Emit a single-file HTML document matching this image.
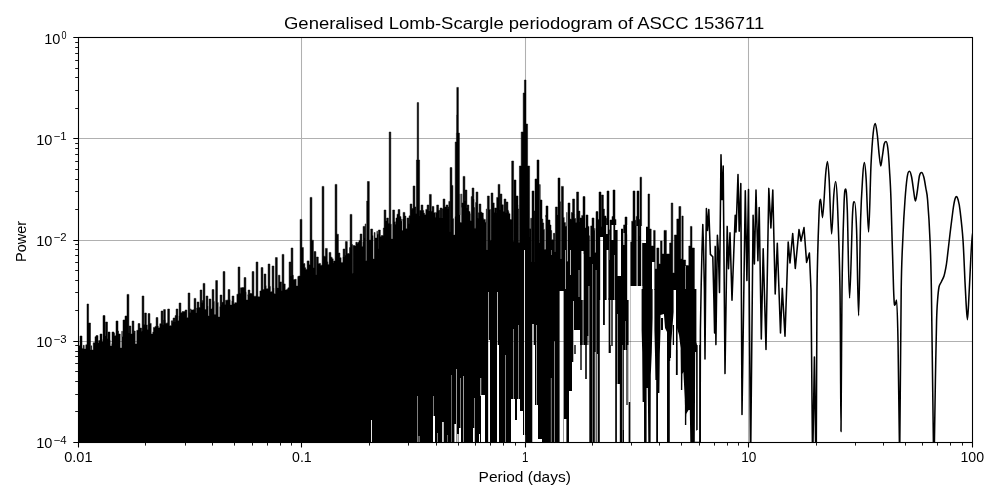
<!DOCTYPE html>
<html><head><meta charset="utf-8"><title>Generalised Lomb-Scargle periodogram</title>
<style>html,body{margin:0;padding:0;background:#fff;width:1000px;height:500px;overflow:hidden}svg text{white-space:pre}</style></head>
<body>
<svg width="1000" height="500" viewBox="0 0 1000 500" style="display:block">
<rect width="1000" height="500" fill="#fff"/>
<defs>
<clipPath id="ax"><rect x="78.4" y="37.6" width="893.9" height="404.8"/></clipPath>
<mask id="gm" maskUnits="userSpaceOnUse" x="0" y="0" width="1000" height="500"><rect width="1000" height="500" fill="#fff"/>
<rect x="371.0" y="420.0" width="0.90" height="22.4" fill="#000"/>
<rect x="417.2" y="396.0" width="0.50" height="46.4" fill="#000"/>
<rect x="418.7" y="436.0" width="0.70" height="6.4" fill="#000"/>
<rect x="433.1" y="396.0" width="0.50" height="46.4" fill="#000"/>
<rect x="433.0" y="416.0" width="2.00" height="26.4" fill="#000"/>
<rect x="437.4" y="433.0" width="0.50" height="9.4" fill="#000"/>
<rect x="442.2" y="422.0" width="1.50" height="20.4" fill="#000"/>
<rect x="447.2" y="435.0" width="0.40" height="7.4" fill="#000"/>
<rect x="451.2" y="375.0" width="0.40" height="67.4" fill="#000"/>
<rect x="456.2" y="369.0" width="0.60" height="73.4" fill="#000"/>
<rect x="454.4" y="424.0" width="1.60" height="18.4" fill="#000"/>
<rect x="457.2" y="434.0" width="1.40" height="8.4" fill="#000"/>
<rect x="459.0" y="428.0" width="2.00" height="14.4" fill="#000"/>
<rect x="460.2" y="378.0" width="0.50" height="51.0" fill="#000"/>
<rect x="463.2" y="376.0" width="0.60" height="66.4" fill="#000"/>
<rect x="474.2" y="398.0" width="0.50" height="44.4" fill="#000"/>
<rect x="473.0" y="428.0" width="1.50" height="14.4" fill="#000"/>
<rect x="479.0" y="434.0" width="1.00" height="8.4" fill="#000"/>
<rect x="481.0" y="395.0" width="4.00" height="47.4" fill="#000"/>
<rect x="480.4" y="378.0" width="0.80" height="18.0" fill="#000"/>
<rect x="488.2" y="292.0" width="0.60" height="150.4" fill="#000"/>
<rect x="488.4" y="340.0" width="1.60" height="102.4" fill="#000"/>
<rect x="497.3" y="292.0" width="0.70" height="150.4" fill="#000"/>
<rect x="497.0" y="345.0" width="2.00" height="97.4" fill="#000"/>
<rect x="505.2" y="355.0" width="0.50" height="87.4" fill="#000"/>
<rect x="511.0" y="399.0" width="4.00" height="43.4" fill="#000"/>
<rect x="513.4" y="329.0" width="0.50" height="71.0" fill="#000"/>
<rect x="517.0" y="399.0" width="3.00" height="43.4" fill="#000"/>
<rect x="518.2" y="325.0" width="0.50" height="75.0" fill="#000"/>
<rect x="514.8" y="420.0" width="2.40" height="22.4" fill="#000"/>
<rect x="520.0" y="411.0" width="3.00" height="31.4" fill="#000"/>
<rect x="523.0" y="435.0" width="2.20" height="7.4" fill="#000"/>
<rect x="524.0" y="250.0" width="0.90" height="192.4" fill="#000"/>
<rect x="532.3" y="324.0" width="1.40" height="118.4" fill="#000"/>
<rect x="533.0" y="345.0" width="2.00" height="97.4" fill="#000"/>
<rect x="536.1" y="325.0" width="0.60" height="117.4" fill="#000"/>
<rect x="535.0" y="405.0" width="3.00" height="37.4" fill="#000"/>
<rect x="538.0" y="439.0" width="4.00" height="3.4" fill="#000"/>
<rect x="551.0" y="250.0" width="0.40" height="5.0" fill="#000"/>
<rect x="550.9" y="378.0" width="0.50" height="64.4" fill="#000"/>
<rect x="554.2" y="341.0" width="0.50" height="101.4" fill="#000"/>
<rect x="559.6" y="291.0" width="4.00" height="151.4" fill="#000"/>
<rect x="565.3" y="250.0" width="0.60" height="39.0" fill="#000"/>
<rect x="570.1" y="250.0" width="0.70" height="25.0" fill="#000"/>
<rect x="569.0" y="391.0" width="3.00" height="51.4" fill="#000"/>
<rect x="564.0" y="419.0" width="2.40" height="23.4" fill="#000"/>
<rect x="573.3" y="301.0" width="0.70" height="141.4" fill="#000"/>
<rect x="574.0" y="330.0" width="6.00" height="112.4" fill="#000"/>
<rect x="572.0" y="362.0" width="2.00" height="80.4" fill="#000"/>
<rect x="580.0" y="345.0" width="9.00" height="97.4" fill="#000"/>
<rect x="578.7" y="270.0" width="0.60" height="27.0" fill="#000"/>
<rect x="582.7" y="254.0" width="0.70" height="188.4" fill="#000"/>
<rect x="581.4" y="251.0" width="2.10" height="49.0" fill="#000"/>
<rect x="588.6" y="286.0" width="0.70" height="156.4" fill="#000"/>
<rect x="592.2" y="264.0" width="0.40" height="178.4" fill="#000"/>
<rect x="595.8" y="270.0" width="0.50" height="172.4" fill="#000"/>
<rect x="594.8" y="352.0" width="0.80" height="90.4" fill="#000"/>
<rect x="596.9" y="354.0" width="0.80" height="88.4" fill="#000"/>
<rect x="587.6" y="336.0" width="0.80" height="10.0" fill="#000"/>
<rect x="600.2" y="237.0" width="2.80" height="205.4" fill="#000"/>
<rect x="599.8" y="300.0" width="15.40" height="142.4" fill="#000"/>
<rect x="606.6" y="250.0" width="1.80" height="50.0" fill="#000"/>
<rect x="606.2" y="225.0" width="1.40" height="9.0" fill="#000"/>
<rect x="611.6" y="225.0" width="1.80" height="15.0" fill="#000"/>
<rect x="614.3" y="255.0" width="0.50" height="45.0" fill="#000"/>
<rect x="615.2" y="225.0" width="2.40" height="5.0" fill="#000"/>
<rect x="617.6" y="225.0" width="3.40" height="51.0" fill="#000"/>
<rect x="623.4" y="233.0" width="1.00" height="12.0" fill="#000"/>
<rect x="627.2" y="225.0" width="3.20" height="75.0" fill="#000"/>
<rect x="630.4" y="286.0" width="11.90" height="156.4" fill="#000"/>
<rect x="628.6" y="300.0" width="1.80" height="102.0" fill="#000"/>
<rect x="626.0" y="405.0" width="2.60" height="37.4" fill="#000"/>
<rect x="627.6" y="345.0" width="1.00" height="60.0" fill="#000"/>
<rect x="616.9" y="384.0" width="2.90" height="58.4" fill="#000"/>
<rect x="617.0" y="314.0" width="0.50" height="70.0" fill="#000"/>
<rect x="622.0" y="345.0" width="0.40" height="97.4" fill="#000"/>
<rect x="622.9" y="350.0" width="0.30" height="80.0" fill="#000"/>
<rect x="624.0" y="350.0" width="2.40" height="92.4" fill="#000"/>
<rect x="625.3" y="321.0" width="0.40" height="29.0" fill="#000"/>
<rect x="636.6" y="226.0" width="1.00" height="60.0" fill="#000"/>
<rect x="641.2" y="226.0" width="1.00" height="74.0" fill="#000"/>
<rect x="642.2" y="226.0" width="3.80" height="17.0" fill="#000"/>
<rect x="652.0" y="262.0" width="2.40" height="75.0" fill="#000"/>
<rect x="685.4" y="266.0" width="0.50" height="34.0" fill="#000"/>
<rect x="640.0" y="290.0" width="61.00" height="152.4" fill="#000"/>
</mask></defs>
<g stroke="#b0b0b0" stroke-width="1.05" fill="none">
<path d="M301.5,37.6V442.4"/><path d="M78.4,138.5H972.3"/>
<path d="M525.5,37.6V442.4"/><path d="M78.4,240.5H972.3"/>
<path d="M748.5,37.6V442.4"/><path d="M78.4,341.5H972.3"/>
</g>
<g clip-path="url(#ax)">
<g mask="url(#gm)"><path d="M78.4,442.4 L78.4,345.7 L80.0,345.7 L80.0,336.0 L82.0,336.0 L82.0,348.4 L83.3,348.4 L83.3,345.3 L84.2,345.3 L84.2,349.0 L85.8,349.0 L85.8,344.8 L87.0,344.8 L87.0,304.0 L88.6,304.0 L88.6,323.0 L90.5,323.0 L90.5,350.0 L91.0,350.0 L91.0,345.8 L91.6,345.8 L91.6,350.0 L93.2,350.0 L93.2,342.8 L95.0,342.8 L95.0,336.7 L96.0,336.7 L96.0,335.6 L98.0,335.6 L98.0,343.1 L98.7,343.1 L98.7,340.5 L100.0,340.5 L100.0,334.0 L102.0,334.0 L102.0,341.8 L102.8,341.8 L102.8,339.4 L103.0,339.4 L103.0,315.6 L105.0,315.6 L105.0,333.2 L105.0,333.2 L105.0,336.0 L105.5,336.0 L105.5,322.0 L107.5,322.0 L107.5,338.5 L108.0,338.5 L108.0,332.0 L110.0,332.0 L110.0,340.2 L110.2,340.2 L110.2,346.0 L111.8,346.0 L111.8,343.7 L112.0,343.7 L112.0,332.0 L114.0,332.0 L114.0,333.2 L114.6,333.2 L114.6,335.8 L116.0,335.8 L116.0,321.0 L118.0,321.0 L118.0,334.1 L118.4,334.1 L118.4,330.9 L118.5,330.9 L118.5,334.0 L120.2,334.0 L120.2,348.0 L121.8,348.0 L121.8,331.2 L122.3,331.2 L122.3,336.8 L123.0,336.8 L123.0,320.0 L125.0,320.0 L125.0,338.3 L125.0,338.3 L125.0,316.0 L127.0,316.0 L127.0,339.9 L127.0,339.9 L127.0,294.4 L128.9,294.4 L128.9,333.0 L129.1,333.0 L129.1,326.0 L130.9,326.0 L130.9,334.0 L132.1,334.0 L132.1,321.0 L133.9,321.0 L133.9,333.1 L134.1,333.1 L134.1,331.0 L135.2,331.0 L135.2,344.0 L136.8,344.0 L136.8,330.3 L138.1,330.3 L138.1,323.6 L139.9,323.6 L139.9,328.1 L141.6,328.1 L141.6,331.3 L142.1,331.3 L142.1,296.0 L143.9,296.0 L143.9,324.6 L144.6,324.6 L144.6,313.0 L146.4,313.0 L146.4,324.9 L147.3,324.9 L147.3,329.4 L148.1,329.4 L148.1,313.6 L149.9,313.6 L149.9,323.4 L151.2,323.4 L151.2,334.0 L152.8,334.0 L152.8,331.9 L153.4,331.9 L153.4,327.4 L155.0,327.4 L155.0,326.4 L156.1,326.4 L156.1,317.6 L157.9,317.6 L157.9,326.1 L158.3,326.1 L158.3,327.7 L159.8,327.7 L159.8,323.7 L161.1,323.7 L161.1,311.0 L162.9,311.0 L162.9,324.4 L163.2,324.4 L163.2,320.1 L163.6,320.1 L163.6,309.6 L165.4,309.6 L165.4,320.1 L165.6,320.1 L165.6,323.2 L167.2,323.2 L167.2,322.7 L167.7,322.7 L167.7,309.0 L169.5,309.0 L169.5,325.7 L171.3,325.7 L171.3,320.8 L172.8,320.8 L172.8,322.2 L173.1,322.2 L173.1,318.0 L174.9,318.0 L174.9,322.0 L175.1,322.0 L175.1,315.6 L176.1,315.6 L176.1,309.0 L177.9,309.0 L177.9,320.8 L178.9,320.8 L178.9,315.8 L179.1,315.8 L179.1,303.0 L180.9,303.0 L180.9,312.7 L182.1,312.7 L182.1,311.6 L183.9,311.6 L183.9,311.6 L185.1,311.6 L185.1,310.0 L186.9,310.0 L186.9,317.8 L188.1,317.8 L188.1,293.0 L189.9,293.0 L189.9,312.6 L190.5,312.6 L190.5,308.9 L191.1,308.9 L191.1,310.0 L192.9,310.0 L192.9,309.8 L194.1,309.8 L194.1,298.4 L195.9,298.4 L195.9,313.0 L196.6,313.0 L196.6,308.0 L197.1,308.0 L197.1,302.0 L198.9,302.0 L198.9,307.6 L200.1,307.6 L200.1,290.0 L201.9,290.0 L201.9,302.6 L202.3,302.6 L202.3,300.6 L203.1,300.6 L203.1,283.4 L204.9,283.4 L204.9,309.6 L206.1,309.6 L206.1,296.0 L207.9,296.0 L207.9,306.3 L208.1,306.3 L208.1,315.9 L209.1,315.9 L209.1,299.0 L210.9,299.0 L210.9,308.9 L212.0,308.9 L212.0,307.4 L212.1,307.4 L212.1,289.6 L213.9,289.6 L213.9,301.4 L214.3,301.4 L214.3,314.5 L215.7,314.5 L215.7,280.6 L217.5,280.6 L217.5,302.5 L218.2,302.5 L218.2,317.0 L219.8,317.0 L219.8,306.7 L220.1,306.7 L220.1,295.0 L221.9,295.0 L221.9,304.7 L222.0,304.7 L222.0,302.3 L223.1,302.3 L223.1,271.6 L224.9,271.6 L224.9,304.5 L225.6,304.5 L225.6,300.2 L227.4,300.2 L227.4,299.9 L228.1,299.9 L228.1,289.6 L229.9,289.6 L229.9,299.8 L230.2,299.8 L230.2,305.0 L231.8,305.0 L231.8,301.2 L232.1,301.2 L232.1,296.0 L233.9,296.0 L233.9,304.0 L234.7,304.0 L234.7,302.7 L236.9,302.7 L236.9,294.2 L238.1,294.2 L238.1,267.0 L239.9,267.0 L239.9,293.3 L240.4,293.3 L240.4,287.8 L242.2,287.8 L242.2,287.5 L244.1,287.5 L244.1,277.6 L245.9,277.6 L245.9,291.7 L246.1,291.7 L246.1,292.4 L246.2,292.4 L246.2,300.0 L247.8,300.0 L247.8,294.8 L248.0,294.8 L248.0,295.4 L248.1,295.4 L248.1,290.0 L249.9,290.0 L249.9,294.0 L250.0,294.0 L250.0,293.5 L252.1,293.5 L252.1,271.6 L253.9,271.6 L253.9,296.2 L256.1,296.2 L256.1,262.0 L257.9,262.0 L257.9,296.8 L259.9,296.8 L259.9,290.9 L261.1,290.9 L261.1,267.6 L262.9,267.6 L262.9,289.5 L264.1,289.5 L264.1,274.0 L265.9,274.0 L265.9,285.7 L266.2,285.7 L266.2,288.8 L268.1,288.8 L268.1,264.0 L269.9,264.0 L269.9,286.4 L270.4,286.4 L270.4,291.7 L272.1,291.7 L272.1,266.0 L273.9,266.0 L273.9,288.2 L274.1,288.2 L274.1,293.7 L275.4,293.7 L275.4,257.6 L277.3,257.6 L277.3,288.0 L278.4,288.0 L278.4,275.2 L279.9,275.2 L279.9,281.9 L281.5,281.9 L281.5,290.8 L282.1,290.8 L282.1,254.4 L283.9,254.4 L283.9,283.9 L285.2,283.9 L285.2,290.0 L286.8,290.0 L286.8,289.2 L287.9,289.2 L287.9,287.8 L289.1,287.8 L289.1,262.0 L290.9,262.0 L290.9,276.0 L291.1,276.0 L291.1,248.0 L292.9,248.0 L292.9,275.3 L293.4,275.3 L293.4,279.6 L295.1,279.6 L295.1,279.3 L296.2,279.3 L296.2,286.0 L297.8,286.0 L297.8,276.5 L298.5,276.5 L298.5,276.0 L300.1,276.0 L300.1,219.4 L301.9,219.4 L301.9,247.5 L302.3,247.5 L302.3,247.5 L303.1,247.5 L303.1,247.5 L303.4,247.5 L303.4,263.6 L304.9,263.6 L304.9,267.7 L305.5,267.7 L305.5,267.7 L305.8,267.7 L305.8,269.6 L307.1,269.6 L307.1,260.9 L309.1,260.9 L309.1,264.7 L310.1,264.7 L310.1,197.4 L311.9,197.4 L311.9,240.2 L312.8,240.2 L312.8,240.2 L313.4,240.2 L313.4,267.7 L314.1,267.7 L314.1,251.6 L315.9,251.6 L315.9,274.7 L316.4,274.7 L316.4,274.7 L316.4,274.7 L316.4,257.0 L318.3,257.0 L318.3,263.4 L320.5,263.4 L320.5,265.2 L322.1,265.2 L322.1,186.4 L323.9,186.4 L323.9,256.2 L325.4,256.2 L325.4,248.4 L327.3,248.4 L327.3,261.8 L327.9,261.8 L327.9,264.4 L329.1,264.4 L329.1,252.4 L330.9,252.4 L330.9,257.2 L331.7,257.2 L331.7,257.2 L332.1,257.2 L332.1,258.8 L333.2,258.8 L333.2,262.7 L333.6,262.7 L333.6,261.0 L335.1,261.0 L335.1,184.4 L336.9,184.4 L336.9,234.2 L337.0,234.2 L337.0,234.2 L338.1,234.2 L338.1,234.2 L338.4,234.2 L338.4,253.0 L339.9,253.0 L339.9,257.7 L341.1,257.7 L341.1,262.4 L342.9,262.4 L342.9,256.9 L343.1,256.9 L343.1,249.0 L344.9,249.0 L344.9,256.9 L345.0,256.9 L345.0,255.3 L345.4,255.3 L345.4,241.6 L347.3,241.6 L347.3,253.5 L349.5,253.5 L349.5,247.6 L350.1,247.6 L350.1,214.4 L351.9,214.4 L351.9,244.5 L352.6,244.5 L352.6,273.3 L353.1,273.3 L353.1,245.6 L354.9,245.6 L354.9,245.9 L355.8,245.9 L355.8,242.3 L357.1,242.3 L357.1,243.6 L357.7,243.6 L357.7,242.3 L358.9,242.3 L358.9,242.3 L359.0,242.3 L359.0,240.4 L360.1,240.4 L360.1,234.0 L361.9,234.0 L361.9,246.4 L362.9,246.4 L362.9,241.8 L363.1,241.8 L363.1,226.4 L364.9,226.4 L364.9,237.7 L365.1,237.7 L365.1,237.7 L365.2,237.7 L365.2,223.9 L365.8,223.9 L365.8,260.7 L366.1,260.7 L366.1,260.7 L366.5,260.7 L366.5,260.7 L366.7,260.7 L366.7,201.0 L366.8,201.0 L366.8,201.0 L367.2,201.0 L367.2,201.0 L367.4,201.0 L367.4,181.5 L369.3,181.5 L369.3,239.9 L370.7,239.9 L370.7,229.0 L372.6,229.0 L372.6,235.5 L373.0,235.5 L373.0,259.1 L373.5,259.1 L373.5,259.1 L374.2,259.1 L374.2,232.5 L375.1,232.5 L375.1,238.0 L376.9,238.0 L376.9,231.2 L377.4,231.2 L377.4,234.2 L378.1,234.2 L378.1,248.4 L378.4,248.4 L378.4,230.0 L380.3,230.0 L380.3,236.4 L381.2,236.4 L381.2,235.6 L383.3,235.6 L383.3,228.1 L384.1,228.1 L384.1,210.0 L385.9,210.0 L385.9,220.9 L386.6,220.9 L386.6,218.0 L388.4,218.0 L388.4,223.2 L388.6,223.2 L388.6,223.2 L389.2,223.2 L389.2,132.0 L390.8,132.0 L390.8,224.2 L391.3,224.2 L391.3,239.0 L391.6,239.0 L391.6,239.0 L392.5,239.0 L392.5,239.0 L392.7,239.0 L392.7,210.0 L394.6,210.0 L394.6,221.8 L395.1,221.8 L395.1,221.8 L395.4,221.8 L395.4,224.3 L396.0,224.3 L396.0,217.9 L396.3,217.9 L396.3,217.9 L396.9,217.9 L396.9,217.9 L397.0,217.9 L397.0,214.2 L398.1,214.2 L398.1,209.6 L399.9,209.6 L399.9,216.6 L400.6,216.6 L400.6,216.6 L401.0,216.6 L401.0,222.1 L401.1,222.1 L401.1,221.0 L401.8,221.0 L401.8,219.0 L402.0,219.0 L402.0,230.5 L402.3,230.5 L402.3,230.5 L403.0,230.5 L403.0,219.0 L403.1,219.0 L403.1,212.4 L404.9,212.4 L404.9,216.1 L405.7,216.1 L405.7,216.1 L405.9,216.1 L405.9,228.8 L407.1,228.8 L407.1,218.0 L408.9,218.0 L408.9,223.5 L409.1,223.5 L409.1,215.8 L409.7,215.8 L409.7,215.8 L410.1,215.8 L410.1,204.0 L411.9,204.0 L411.9,209.6 L412.1,209.6 L412.1,208.5 L413.0,208.5 L413.0,208.5 L413.1,208.5 L413.1,186.0 L414.9,186.0 L414.9,206.9 L415.7,206.9 L415.7,206.9 L415.9,206.9 L415.9,213.5 L416.4,213.5 L416.4,160.0 L417.2,160.0 L417.2,102.6 L418.6,102.6 L418.6,160.0 L419.6,160.0 L419.6,215.8 L419.8,215.8 L419.8,210.5 L421.0,210.5 L421.0,210.5 L421.1,210.5 L421.1,205.0 L422.9,205.0 L422.9,210.4 L423.8,210.4 L423.8,213.1 L424.1,213.1 L424.1,213.1 L424.5,213.1 L424.5,215.0 L424.6,215.0 L424.6,214.8 L425.8,214.8 L425.8,209.4 L425.9,209.4 L425.9,209.4 L427.1,209.4 L427.1,205.0 L428.9,205.0 L428.9,210.9 L429.4,210.9 L429.4,194.4 L431.3,194.4 L431.3,211.3 L432.1,211.3 L432.1,206.4 L433.9,206.4 L433.9,212.7 L434.5,212.7 L434.5,212.7 L435.0,212.7 L435.0,217.3 L435.6,217.3 L435.6,212.4 L436.7,212.4 L436.7,205.0 L438.6,205.0 L438.6,210.3 L438.6,210.3 L438.6,210.3 L439.8,210.3 L439.8,217.8 L440.1,217.8 L440.1,208.0 L441.9,208.0 L441.9,217.9 L442.2,217.9 L442.2,208.8 L442.6,208.8 L442.6,208.8 L443.1,208.8 L443.1,199.0 L444.9,199.0 L444.9,206.9 L446.1,206.9 L446.1,205.0 L447.9,205.0 L447.9,209.2 L448.1,209.2 L448.1,207.1 L448.1,207.1 L448.1,207.1 L448.8,207.1 L448.8,201.4 L449.1,201.4 L449.1,201.4 L449.9,201.4 L449.9,231.8 L450.1,231.8 L450.1,167.6 L451.9,167.6 L451.9,185.4 L452.0,185.4 L452.0,185.4 L452.9,185.4 L452.9,218.7 L453.6,218.7 L453.6,235.1 L453.8,235.1 L453.8,235.1 L455.0,235.1 L455.0,216.6 L455.2,216.6 L455.2,142.0 L456.4,142.0 L456.4,133.0 L456.6,133.0 L456.6,115.0 L456.8,115.0 L456.8,87.4 L458.4,87.4 L458.4,133.0 L459.4,133.0 L459.4,215.0 L460.0,215.0 L460.0,193.9 L460.1,193.9 L460.1,222.6 L461.6,222.6 L461.6,193.9 L461.9,193.9 L461.9,207.4 L461.9,207.4 L461.9,203.0 L463.1,203.0 L463.1,176.4 L464.9,176.4 L464.9,200.9 L465.1,200.9 L465.1,190.0 L466.9,190.0 L466.9,207.9 L467.1,207.9 L467.1,205.0 L468.9,205.0 L468.9,211.1 L469.0,211.1 L469.0,211.6 L470.0,211.6 L470.0,213.7 L470.3,213.7 L470.3,220.7 L471.2,220.7 L471.2,196.6 L472.0,196.6 L472.0,196.6 L472.1,196.6 L472.1,188.0 L473.9,188.0 L473.9,199.3 L474.1,199.3 L474.1,207.6 L474.7,207.6 L474.7,228.2 L474.9,228.2 L474.9,228.2 L475.6,228.2 L475.6,202.4 L476.1,202.4 L476.1,192.0 L477.9,192.0 L477.9,218.3 L478.2,218.3 L478.2,212.8 L479.1,212.8 L479.1,204.0 L480.9,204.0 L480.9,212.1 L481.4,212.1 L481.4,212.1 L481.8,212.1 L481.8,213.0 L483.3,213.0 L483.3,218.6 L483.7,218.6 L483.7,219.4 L485.3,219.4 L485.3,222.3 L486.3,222.3 L486.3,208.9 L486.5,208.9 L486.5,250.1 L487.1,250.1 L487.1,250.1 L487.4,250.1 L487.4,196.0 L489.3,196.0 L489.3,209.4 L490.4,209.4 L490.4,240.2 L490.8,240.2 L490.8,240.2 L491.0,240.2 L491.0,240.2 L491.1,240.2 L491.1,193.0 L492.9,193.0 L492.9,202.9 L494.2,202.9 L494.2,212.2 L494.7,212.2 L494.7,208.0 L496.6,208.0 L496.6,212.9 L496.7,212.9 L496.7,197.4 L496.8,197.4 L496.8,197.4 L498.1,197.4 L498.1,184.4 L499.9,184.4 L499.9,209.7 L500.1,209.7 L500.1,194.0 L501.9,194.0 L501.9,204.8 L502.8,204.8 L502.8,204.8 L503.3,204.8 L503.3,211.6 L504.1,211.6 L504.1,199.0 L505.9,199.0 L505.9,212.8 L506.1,212.8 L506.1,202.0 L507.9,202.0 L507.9,210.0 L508.3,210.0 L508.3,211.4 L508.9,211.4 L508.9,213.7 L510.0,213.7 L510.0,219.6 L511.7,219.6 L511.7,161.0 L513.6,161.0 L513.6,210.3 L513.7,210.3 L513.7,241.3 L514.0,241.3 L514.0,241.3 L514.0,241.3 L514.0,180.0 L516.0,180.0 L516.0,212.5 L516.0,212.5 L516.0,196.0 L518.0,196.0 L518.0,205.1 L518.1,205.1 L518.1,208.9 L518.7,208.9 L518.7,242.5 L519.1,242.5 L519.1,242.5 L519.4,242.5 L519.4,166.0 L521.2,166.0 L521.2,132.0 L523.2,132.0 L523.2,93.0 L524.4,93.0 L524.4,80.0 L526.0,80.0 L526.0,124.0 L527.6,124.0 L527.6,166.0 L529.6,166.0 L529.6,237.3 L529.7,237.3 L529.7,228.7 L530.7,228.7 L530.7,218.2 L530.8,218.2 L530.8,218.2 L531.7,218.2 L531.7,261.7 L532.0,261.7 L532.0,191.0 L534.0,191.0 L534.0,211.0 L534.9,211.0 L534.9,261.9 L534.9,261.9 L534.9,261.9 L534.9,261.9 L534.9,261.9 L535.0,261.9 L535.0,179.0 L537.0,179.0 L537.0,206.3 L537.0,206.3 L537.0,160.0 L539.0,160.0 L539.0,184.5 L539.1,184.5 L539.1,184.5 L539.4,184.5 L539.4,184.5 L539.5,184.5 L539.5,243.1 L540.0,243.1 L540.0,184.5 L540.1,184.5 L540.1,200.0 L542.0,200.0 L542.0,219.0 L542.3,219.0 L542.3,219.0 L542.8,219.0 L542.8,222.9 L543.7,222.9 L543.7,229.4 L544.4,229.4 L544.4,249.5 L544.4,249.5 L544.4,249.5 L545.8,249.5 L545.8,215.2 L546.0,215.2 L546.0,217.1 L546.0,217.1 L546.0,206.0 L548.0,206.0 L548.0,225.5 L548.0,225.5 L548.0,220.0 L550.0,220.0 L550.0,225.0 L551.0,225.0 L551.0,230.5 L551.7,230.5 L551.7,239.8 L553.4,239.8 L553.4,233.3 L554.8,233.3 L554.8,252.0 L555.4,252.0 L555.4,207.0 L557.4,207.0 L557.4,214.9 L558.0,214.9 L558.0,178.0 L560.0,178.0 L560.0,201.8 L560.6,201.8 L560.6,259.1 L561.0,259.1 L561.0,259.1 L561.3,259.1 L561.3,259.1 L561.4,259.1 L561.4,186.4 L563.4,186.4 L563.4,217.4 L563.7,217.4 L563.7,217.4 L564.2,217.4 L564.2,222.6 L565.4,222.6 L565.4,226.3 L565.8,226.3 L565.8,226.3 L566.8,226.3 L566.8,212.3 L566.9,212.3 L566.9,261.5 L567.9,261.5 L567.9,261.5 L568.0,261.5 L568.0,203.0 L570.0,203.0 L570.0,219.0 L570.8,219.0 L570.8,219.3 L571.4,219.3 L571.4,212.5 L571.4,212.5 L571.4,212.5 L572.6,212.5 L572.6,199.0 L574.6,199.0 L574.6,213.9 L574.7,213.9 L574.7,218.5 L575.7,218.5 L575.7,222.6 L576.5,222.6 L576.5,222.6 L576.6,222.6 L576.6,192.0 L578.6,192.0 L578.6,211.1 L578.7,211.1 L578.7,211.1 L579.9,211.1 L579.9,222.2 L580.0,222.2 L580.0,218.0 L581.7,218.0 L581.7,215.4 L582.0,215.4 L582.0,215.4 L582.7,215.4 L582.7,215.4 L583.0,215.4 L583.0,196.6 L585.0,196.6 L585.0,228.0 L586.0,228.0 L586.0,215.0 L588.0,215.0 L588.0,226.4 L589.0,226.4 L589.0,235.7 L589.5,235.7 L589.5,257.1 L590.7,257.1 L590.7,235.7 L590.7,235.7 L590.7,225.9 L590.8,225.9 L590.8,225.9 L592.0,225.9 L592.0,218.0 L594.0,218.0 L594.0,230.6 L594.7,230.6 L594.7,228.3 L594.9,228.3 L594.9,228.3 L594.9,228.3 L594.9,252.8 L596.0,252.8 L596.0,211.6 L598.0,211.6 L598.0,219.5 L599.0,219.5 L599.0,219.5 L599.0,219.5 L599.0,192.0 L601.0,192.0 L601.0,226.5 L601.2,226.5 L601.2,226.5 L601.4,226.5 L601.4,195.0 L603.4,195.0 L603.4,209.0 L604.0,209.0 L604.0,209.0 L604.4,209.0 L604.4,216.0 L606.0,216.0 L606.0,232.8 L606.2,232.8 L606.2,218.2 L606.8,218.2 L606.8,218.2 L607.0,218.2 L607.0,191.0 L609.0,191.0 L609.0,234.9 L609.1,234.9 L609.1,229.8 L609.4,229.8 L609.4,259.9 L610.0,259.9 L610.0,220.0 L612.0,220.0 L612.0,241.3 L612.0,241.3 L612.0,216.5 L613.0,216.5 L613.0,190.0 L615.0,190.0 L615.0,219.4 L616.0,219.4 L616.0,234.2 L616.0,234.2 L616.0,230.0 L618.0,230.0 L618.0,244.2 L618.3,244.2 L618.3,238.9 L619.9,238.9 L619.9,235.8 L621.0,235.8 L621.0,229.0 L623.0,229.0 L623.0,242.3 L623.6,242.3 L623.6,224.9 L623.8,224.9 L623.8,224.9 L625.0,224.9 L625.0,217.0 L627.0,217.0 L627.0,234.4 L628.0,234.4 L628.0,226.1 L628.4,226.1 L628.4,266.9 L629.7,266.9 L629.7,266.9 L629.8,266.9 L629.8,242.0 L631.7,242.0 L631.7,221.2 L633.0,221.2 L633.0,191.0 L635.0,191.0 L635.0,220.3 L635.7,220.3 L635.7,220.3 L635.8,220.3 L635.8,225.8 L636.2,225.8 L636.2,216.4 L637.0,216.4 L637.0,191.0 L639.0,191.0 L639.0,219.5 L639.4,219.5 L639.4,219.5 L639.9,219.5 L639.9,236.0 L640.0,236.0 L640.0,177.2 L641.6,177.2 L641.6,243.0 L644.8,243.0 L644.8,227.0 L648.0,227.0 L648.0,194.0 L649.6,194.0 L649.6,229.0 L651.2,229.0 L651.2,246.0 L653.6,246.0 L653.6,230.4 L655.2,230.4 L655.2,269.0 L656.8,269.0 L656.8,248.0 L658.9,248.0 L658.9,264.0 L660.5,264.0 L660.5,241.0 L662.1,241.0 L662.1,254.0 L664.0,254.0 L664.0,230.4 L666.4,230.4 L666.4,254.0 L669.6,254.0 L669.6,243.0 L671.2,243.0 L671.2,203.0 L672.8,203.0 L672.8,273.0 L674.4,273.0 L674.4,235.0 L676.8,235.0 L676.8,219.0 L678.9,219.0 L678.9,206.5 L680.8,206.5 L680.8,259.0 L681.9,259.0 L681.9,216.0 L683.2,216.0 L683.2,260.0 L685.6,260.0 L685.6,265.6 L688.8,265.6 L688.8,246.0 L690.4,246.0 L690.4,226.4 L692.0,226.4 L692.0,248.0 L694.4,248.0 L694.4,300.0 L695.0,300.0 L695.0,442.4Z" fill="#000" stroke="#000" stroke-width="0.5" stroke-linejoin="miter"/></g>
<path d="M641.6,289.0 L652.6,289.0 L652.6,318.0 L651.8,352.0 L650.8,375.0 L650.6,442.4 L648.3,442.4 L647.8,388.0 L646.6,388.0 L646.6,442.4 L644.2,442.4 L644.0,402.0 L642.6,402.0 L642.2,352.0 L641.6,330.0Z" fill="#000"/>
<path d="M654.4,289.0 L664.0,289.0 L664.0,314.0 L660.5,315.0 L660.5,330.0 L659.8,354.0 L659.4,393.0 L658.0,393.0 L658.0,442.4 L656.2,442.4 L656.2,380.0 L655.4,380.0 L655.0,354.0 L654.4,330.0Z" fill="#000"/>
<path d="M664.0,289.0 L673.6,289.0 L673.6,312.0 L672.4,328.0 L671.2,343.0 L671.0,358.0 L669.8,358.0 L669.8,442.4 L667.0,442.4 L667.0,332.0 L665.0,328.0 L664.0,315.0Z" fill="#000"/>
<path d="M676.0,289.0 L696.4,289.0 L696.4,342.0 L697.2,346.0 L697.2,430.0 L696.4,431.0 L696.2,352.0 L695.2,352.0 L694.8,442.4 L690.3,442.4 L689.8,410.0 L688.6,410.0 L687.4,412.0 L686.2,414.0 L685.6,425.5 L684.8,400.0 L683.4,372.0 L682.2,374.0 L682.0,390.0 L681.2,390.0 L680.6,348.0 L679.0,335.0 L677.0,328.0 L676.0,315.0Z" fill="#000"/>
<path d="M604.0,250.0V325.0" stroke="#000" stroke-width="1.4" fill="none"/>
<path d="M610.0,345.0V353.0" stroke="#000" stroke-width="1.4" fill="none"/>
<path d="M575.0,345.0V354.0" stroke="#000" stroke-width="1.4" fill="none"/>
<path d="M581.0,345.0V370.0" stroke="#000" stroke-width="1.4" fill="none"/>
<path d="M586.0,345.0V379.0" stroke="#000" stroke-width="1.6" fill="none"/>
<path d="M676.6,350.0V375.0" stroke="#000" stroke-width="1.4" fill="none"/>
<path d="M681.6,350.0V390.0" stroke="#000" stroke-width="1.4" fill="none"/>
<path d="M685.6,400.0V425.0" stroke="#000" stroke-width="1.4" fill="none"/>
<path d="M697.0,345.0V430.0" stroke="#000" stroke-width="1.2" fill="none"/>
<path d="M700.0,345.0V442.4" stroke="#000" stroke-width="1.6" fill="none"/>
<path d="M662.0,318.0V330.0" stroke="#000" stroke-width="2.0" fill="none"/>
<path d="M669.0,318.0V361.0" stroke="#000" stroke-width="2.4" fill="none"/>
<path d="M676.8,289.0V375.0" stroke="#000" stroke-width="1.6" fill="none"/>
<path d="M673.4,325.0V345.0" stroke="#000" stroke-width="1.3" fill="none"/>
<path d="M645.0,395.0V442.4" stroke="#000" stroke-width="1.5" fill="none"/>
<path d="M603.8,298.0V325.0" stroke="#000" stroke-width="1.4" fill="none"/>
<path d="M609.5,298.0V353.0" stroke="#000" stroke-width="1.7" fill="none"/>
<path d="M612.0,298.0V346.0" stroke="#000" stroke-width="1.4" fill="none"/>
<path d="M695.0,442.4L698.0,442.4L700.1,442.4L700.4,330.0L701.2,285.0L702.0,250.0L702.8,224.6L703.6,250.0L704.4,290.0L705.0,359.0L705.6,290.0L706.0,240.0L706.4,208.6L707.5,230.4L708.8,209.6L710.4,254.4L712.8,256.8L713.9,300.0L714.6,333.0L715.2,246.4L715.9,344.6L717.4,235.2L718.4,251.2L719.5,292.6L721.0,154.8L722.0,199.6L723.2,166.0L725.0,373.6L727.2,226.4L728.5,268.8L730.0,232.8L732.0,300.3L735.2,215.2L736.0,232.0L738.0,174.5L739.2,231.2L740.8,183.6L742.0,414.4L745.3,190.8L746.9,280.6L748.5,189.5L750.4,442.4L750.8,442.4L753.1,215.2L754.4,264.0L756.0,190.0L757.9,260.8L759.2,207.6L761.3,339.0L763.2,248.8L766.0,349.4L768.8,188.4L770.9,228.0L772.8,190.0L775.2,293.9L777.3,243.2L780.5,333.0L782.3,288.4L785.0,336.2L788.2,242.0L790.0,263.0L792.7,233.5L795.3,268.4L799.0,229.6L801.0,241.0L804.0,227.6L806.6,262.4L809.4,253.0L811.0,290.0L812.4,442.4L813.0,442.4L814.4,357.0L815.6,442.4L816.3,442.4L817.0,290.0C817.5,252.1 818.4,230.1 819.0,215.0C819.6,199.9 820.0,199.2 820.6,199.2C821.2,199.2 821.8,217.6 822.6,217.6C823.4,217.6 824.8,184.3 825.6,175.0C826.4,165.7 826.8,161.6 827.4,161.6C828.0,161.6 828.5,167.9 829.2,180.0C829.9,192.1 830.8,234.0 831.6,234.0C832.4,234.0 833.1,203.8 833.8,195.0C834.5,186.2 835.0,181.4 835.6,181.4C836.2,181.4 836.8,186.9 837.5,205.0C838.2,223.1 839.4,252.2 840.0,290.0C840.6,327.8 840.7,431.6 841.0,431.6C841.3,431.6 841.5,327.8 842.0,290.0C842.5,252.2 843.4,221.8 844.0,205.0C844.6,188.2 845.1,189.0 845.6,189.0C846.1,189.0 846.6,191.8 847.3,210.0C848.0,228.2 848.7,298.0 849.6,298.0C850.5,298.0 851.7,231.0 852.5,215.0C853.3,199.0 853.9,202.0 854.6,202.0C855.3,202.0 855.9,211.1 856.6,230.0C857.3,248.9 857.9,315.6 858.6,315.6C859.3,315.6 859.9,243.4 860.6,220.0C861.3,196.6 862.2,184.6 862.8,175.0C863.4,165.4 863.8,162.6 864.4,162.6C865.0,162.6 865.5,168.4 866.2,180.0C866.9,191.6 867.8,232.0 868.6,232.0C869.4,232.0 870.2,181.5 871.0,165.0C871.8,148.5 872.5,139.9 873.2,133.0C873.9,126.1 874.5,123.6 875.2,123.6C875.9,123.6 876.5,128.8 877.2,134.0C877.9,139.2 878.6,149.7 879.2,155.0C879.8,160.3 880.3,166.0 880.8,166.0C881.3,166.0 881.8,159.7 882.4,156.0C883.0,152.3 883.6,146.4 884.2,144.0C884.8,141.6 885.4,141.4 886.0,141.4C886.6,141.4 887.2,143.2 887.8,148.0C888.4,152.8 889.0,161.3 889.5,170.0C890.0,178.7 890.3,180.0 891.0,200.0C891.7,220.0 892.9,272.5 893.6,290.0C894.3,307.5 894.5,305.0 895.0,305.0C895.5,305.0 896.1,300.0 896.6,300.0C897.1,300.0 897.5,316.3 898.0,340.0L899.4,442.4L899.8,442.4L901.2,290.0C901.7,255.4 902.4,250.0 903.0,235.0C903.6,220.0 904.3,209.7 905.0,200.0C905.7,190.3 906.5,181.8 907.2,177.0C907.9,172.2 908.7,171.2 909.4,171.2C910.1,171.2 910.9,173.5 911.6,177.0C912.3,180.5 913.2,188.0 913.8,192.0C914.4,196.0 914.8,201.0 915.4,201.0C916.0,201.0 916.5,196.2 917.2,192.0C917.9,187.8 918.7,179.3 919.4,176.0C920.1,172.7 920.9,172.4 921.6,172.4C922.3,172.4 923.1,174.4 923.8,177.0C924.5,179.6 925.2,184.2 925.8,188.0C926.4,191.8 926.9,191.3 927.6,200.0C928.3,208.7 929.4,225.0 930.0,240.0C930.6,255.0 930.8,256.3 931.4,290.0L933.4,442.4L934.4,442.4L935.4,380.0C935.8,359.6 936.2,333.3 936.6,320.0C937.0,306.7 937.2,305.5 937.6,300.0C938.0,294.5 938.4,290.1 939.0,287.0C939.6,283.9 940.7,283.3 941.5,281.5C942.3,279.7 943.3,278.1 944.0,276.0C944.7,273.9 945.1,271.7 945.6,269.0C946.1,266.3 946.3,265.8 947.0,260.0C947.7,254.2 949.0,242.3 950.0,234.0C951.0,225.7 952.2,215.8 953.0,210.0C953.8,204.2 954.4,201.2 955.0,199.0C955.6,196.8 955.9,196.6 956.4,196.6C956.9,196.6 957.4,197.3 958.0,199.5C958.6,201.7 959.2,203.2 960.0,210.0C960.8,216.8 962.2,228.0 963.0,240.0C963.8,252.0 964.5,271.2 965.0,282.0C965.5,292.8 965.8,298.7 966.2,305.0C966.6,311.3 967.0,319.6 967.4,319.6C967.8,319.6 968.1,312.4 968.5,305.0C968.9,297.6 969.4,287.0 970.0,275.0C970.6,263.0 971.9,233.0 972.3,233.0" fill="none" stroke="#000" stroke-width="1.55" stroke-linejoin="round" stroke-linecap="butt"/>
</g>
<rect x="78.5" y="37.5" width="894.0" height="405.0" fill="none" stroke="#000" stroke-width="1.1"/>
<path d="M78.5,442.4v5.1 M78.4,37.5h-5.1 M301.5,442.4v5.1 M78.4,138.5h-5.1 M525.5,442.4v5.1 M78.4,240.5h-5.1 M748.5,442.4v5.1 M78.4,341.5h-5.1 M972.5,442.4v5.1 M78.4,442.5h-5.1" stroke="#000" stroke-width="1.1" fill="none"/>
<path d="M145.5,442.4v3.2 M78.4,411.5h-3.2 M185.5,442.4v3.2 M78.4,394.5h-3.2 M212.5,442.4v3.2 M78.4,381.5h-3.2 M234.5,442.4v3.2 M78.4,371.5h-3.2 M252.5,442.4v3.2 M78.4,363.5h-3.2 M267.5,442.4v3.2 M78.4,356.5h-3.2 M280.5,442.4v3.2 M78.4,351.5h-3.2 M291.5,442.4v3.2 M78.4,345.5h-3.2 M369.5,442.4v3.2 M78.4,310.5h-3.2 M408.5,442.4v3.2 M78.4,292.5h-3.2 M436.5,442.4v3.2 M78.4,280.5h-3.2 M458.5,442.4v3.2 M78.4,270.5h-3.2 M475.5,442.4v3.2 M78.4,262.5h-3.2 M490.5,442.4v3.2 M78.4,255.5h-3.2 M503.5,442.4v3.2 M78.4,249.5h-3.2 M515.5,442.4v3.2 M78.4,244.5h-3.2 M592.5,442.4v3.2 M78.4,209.5h-3.2 M631.5,442.4v3.2 M78.4,191.5h-3.2 M659.5,442.4v3.2 M78.4,179.5h-3.2 M681.5,442.4v3.2 M78.4,169.5h-3.2 M699.5,442.4v3.2 M78.4,161.5h-3.2 M714.5,442.4v3.2 M78.4,154.5h-3.2 M727.5,442.4v3.2 M78.4,148.5h-3.2 M738.5,442.4v3.2 M78.4,143.5h-3.2 M816.5,442.4v3.2 M78.4,108.5h-3.2 M855.5,442.4v3.2 M78.4,90.5h-3.2 M883.5,442.4v3.2 M78.4,77.5h-3.2 M905.5,442.4v3.2 M78.4,68.5h-3.2 M922.5,442.4v3.2 M78.4,60.5h-3.2 M937.5,442.4v3.2 M78.4,53.5h-3.2 M950.5,442.4v3.2 M78.4,47.5h-3.2 M962.5,442.4v3.2 M78.4,42.5h-3.2" stroke="#000" stroke-width="0.9" fill="none"/>
<g font-family="'Liberation Sans', sans-serif" fill="#000" opacity="0.999">
<text x="284.0" y="28.9" font-size="17.3" textLength="480.2" lengthAdjust="spacingAndGlyphs">Generalised Lomb-Scargle periodogram of ASCC 1536711</text>
<text x="478.6" y="482" font-size="14.1" textLength="92.2" lengthAdjust="spacingAndGlyphs">Period (days)</text>
<text transform="translate(26,262) rotate(-90)" font-size="14.1" textLength="41" lengthAdjust="spacingAndGlyphs">Power</text>
<text x="64.2" y="462.2" font-size="14.1" textLength="28.4" lengthAdjust="spacingAndGlyphs">0.01</text>
<text x="292.1" y="462.2" font-size="14.1" textLength="19.6" lengthAdjust="spacingAndGlyphs">0.1</text>
<text x="522.1" y="462.2" font-size="14.1" textLength="6.4" lengthAdjust="spacingAndGlyphs">1</text>
<text x="741.2" y="462.2" font-size="14.1" textLength="15.2" lengthAdjust="spacingAndGlyphs">10</text>
<text x="960.5" y="462.2" font-size="14.1" textLength="23.6" lengthAdjust="spacingAndGlyphs">100</text>
<text x="61.6" y="38.9" font-size="10.3" textLength="5.0" lengthAdjust="spacingAndGlyphs">0</text>
<text x="44.2" y="43.6" font-size="14.1" textLength="16.2" lengthAdjust="spacingAndGlyphs">10</text>
<text x="53.6" y="140.1" font-size="10.3" textLength="13.0" lengthAdjust="spacingAndGlyphs">−1</text>
<text x="36.2" y="144.8" font-size="14.1" textLength="16.2" lengthAdjust="spacingAndGlyphs">10</text>
<text x="53.6" y="241.3" font-size="10.3" textLength="13.0" lengthAdjust="spacingAndGlyphs">−2</text>
<text x="36.2" y="246.0" font-size="14.1" textLength="16.2" lengthAdjust="spacingAndGlyphs">10</text>
<text x="53.6" y="342.5" font-size="10.3" textLength="13.0" lengthAdjust="spacingAndGlyphs">−3</text>
<text x="36.2" y="347.2" font-size="14.1" textLength="16.2" lengthAdjust="spacingAndGlyphs">10</text>
<text x="53.6" y="443.7" font-size="10.3" textLength="13.0" lengthAdjust="spacingAndGlyphs">−4</text>
<text x="36.2" y="448.4" font-size="14.1" textLength="16.2" lengthAdjust="spacingAndGlyphs">10</text>
</g>
</svg>
</body></html>
